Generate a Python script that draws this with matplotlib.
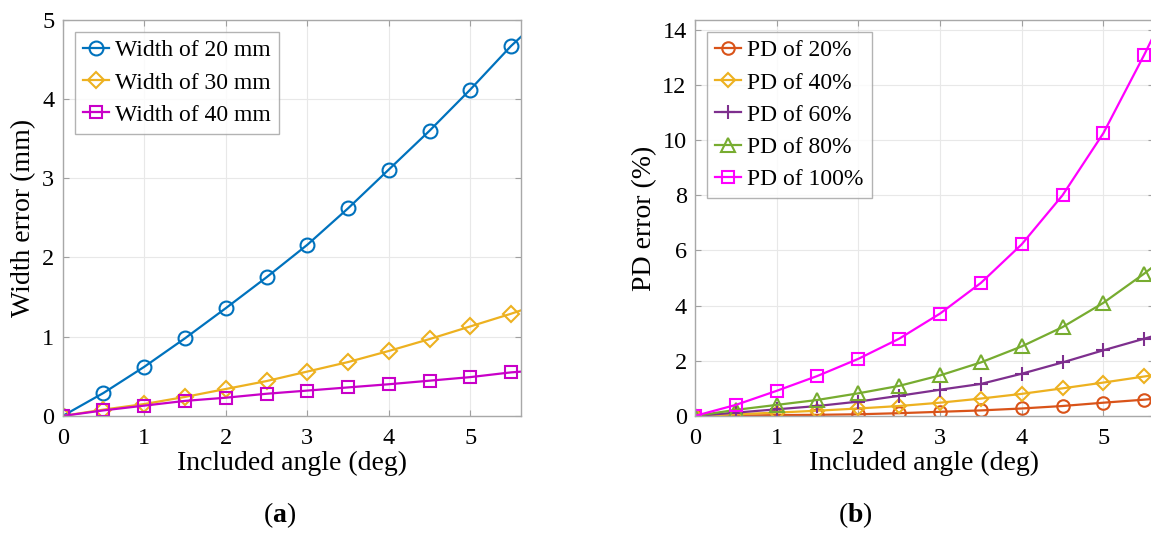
import numpy as np
import matplotlib.pyplot as plt

plt.rcParams['font.family'] = ['Liberation Serif', 'DejaVu Serif']
plt.rcParams['mathtext.fontset'] = 'custom'
plt.rcParams['mathtext.rm'] = 'Liberation Serif'
plt.rcParams['mathtext.bf'] = 'Liberation Serif:bold'

# included angle (deg); last point is where the curve leaves the axes
angle = [0, 0.5, 1, 1.5, 2, 2.5, 3, 3.5, 4, 4.5, 5, 5.5, 5.7]

# (a) width error (mm)
w20 = [0, 0.29, 0.62, 0.98, 1.36, 1.75, 2.16, 2.62, 3.11, 3.60, 4.12, 4.67, 4.86]
w30 = [0, 0.08, 0.15, 0.24, 0.34, 0.44, 0.56, 0.68, 0.82, 0.97, 1.13, 1.29, 1.36]
w40 = [0, 0.07, 0.13, 0.19, 0.23, 0.28, 0.32, 0.36, 0.40, 0.445, 0.49, 0.55, 0.565]

# (b) PD error (%)
pd20 = [0, 0.01, 0.03, 0.04, 0.06, 0.10, 0.15, 0.20, 0.27, 0.36, 0.48, 0.59, 0.64]
pd40 = [0, 0.06, 0.12, 0.19, 0.27, 0.36, 0.48, 0.63, 0.80, 1.00, 1.21, 1.43, 1.52]
pd60 = [0, 0.12, 0.24, 0.36, 0.52, 0.73, 0.95, 1.16, 1.53, 1.94, 2.38, 2.80, 2.97]
pd80 = [0, 0.22, 0.40, 0.58, 0.82, 1.09, 1.47, 1.94, 2.52, 3.22, 4.10, 5.16, 5.62]
pd100 = [0, 0.40, 0.91, 1.45, 2.07, 2.80, 3.71, 4.82, 6.22, 8.00, 10.25, 13.09, 14.3]

fig = plt.figure(figsize=(11.51, 5.36), dpi=100)
ax = fig.add_axes([0.0545, 0.224, 0.398, 0.739])
ax1 = fig.add_axes([0.6038, 0.224, 0.3988, 0.739])

mk = list(range(12))

ax.plot(angle, w20, '-o', color='#0072BD', lw=1.6, ms=10, mfc='none', mew=1.5, markevery=mk, label='Width of 20 mm')
ax.plot(angle, w30, '-D', color='#EDB120', lw=1.6, ms=8, mfc='none', mew=1.5, markevery=mk, label='Width of 30 mm')
ax.plot(angle, w40, '-s', color='#C800C8', lw=1.6, ms=8, mfc='none', mew=1.5, markevery=mk, label='Width of 40 mm')
ax.set_ylim(0, 5)
ax.set_ylabel('Width error (mm)', fontsize=20, labelpad=4)

ax1.plot(angle, pd20, '-o', color='#D95319', lw=1.6, ms=9, mfc='none', mew=1.5, markevery=mk, label='PD of 20%')
ax1.plot(angle, pd40, '-D', color='#EDB120', lw=1.6, ms=7, mfc='none', mew=1.5, markevery=mk, label='PD of 40%')
ax1.plot(angle, pd60, '-+', color='#7E2F8E', lw=1.6, ms=10, mew=1.5, markevery=mk, label='PD of 60%')
ax1.plot(angle, pd80, '-^', color='#77AC30', lw=1.6, ms=10, mfc='none', mew=1.5, markevery=mk, label='PD of 80%')
ax1.plot(angle, pd100, '-s', color='#FF00FF', lw=1.6, ms=8, mfc='none', mew=1.5, markevery=mk, label='PD of 100%')
ax1.set_ylim(0, 14.36)
ax1.set_yticks(np.arange(0, 15, 2))
ax1.set_ylabel('PD error (%)', fontsize=20, labelpad=4)

for a in (ax, ax1):
    a.set_xlim(0, 5.62)
    a.set_xticks(range(6))
    a.set_xlabel('Included angle (deg)', fontsize=20, labelpad=1)
    a.grid(True, color='#e8e8e8', lw=0.8)
    a.set_axisbelow(True)
    a.tick_params(direction='in', length=4, color='#a0a0a0', labelsize=17.5,
                  top=True, right=True)
    a.tick_params(axis='x', pad=9)
    a.tick_params(axis='y', pad=6)
    for s in a.spines.values():
        s.set_color('#a8a8a8')
        s.set_linewidth(1.0)
    leg = a.legend(loc='upper left', fontsize=17, fancybox=False, edgecolor='#a0a0a0',
                   handlelength=1.1, handletextpad=0.25, borderpad=0.35, labelspacing=0.45,
                   borderaxespad=0.5)
    leg.get_frame().set_linewidth(1.0)

fig.text(0.243, 0.039, r'($\mathbf{a}$)', fontsize=20, ha='center', va='center')
fig.text(0.743, 0.039, r'($\mathbf{b}$)', fontsize=20, ha='center', va='center')

fig.savefig('out.png', dpi=100)
